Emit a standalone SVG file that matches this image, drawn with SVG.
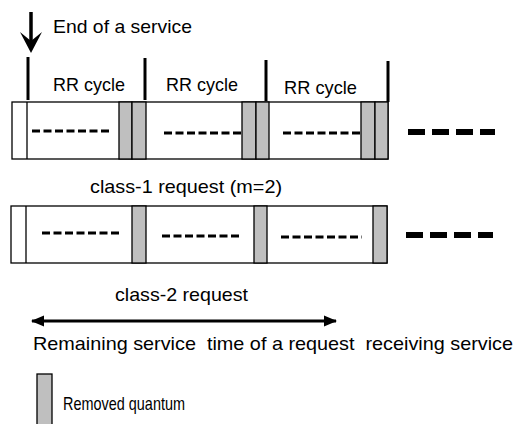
<svg xmlns="http://www.w3.org/2000/svg" width="518" height="424" viewBox="0 0 518 424">
<style>
text{font-family:"Liberation Sans Narrow","Liberation Sans",Arial,sans-serif;font-size:19px;fill:#000;white-space:pre}
.box{fill:#fff;stroke:#000;stroke-width:1.3}
.q{fill:#bfbfbf;stroke:#000;stroke-width:1.3}
.tick{stroke:#000;stroke-width:3}
.dash{stroke:#000;stroke-width:3;stroke-dasharray:8 3.5}
.big{stroke:#000;stroke-width:6;stroke-dasharray:17 7}
</style>
<defs>
<marker id="ah" viewBox="0 0 12 12" refX="11" refY="6" markerWidth="4.5" markerHeight="4.5" orient="auto-start-reverse" markerUnits="strokeWidth">
<path d="M0,1 L12,6 L0,11 Z" fill="#000"/>
</marker>
</defs>
<g id="end-of-service">
<path d="M31,12 V42" stroke="#000" stroke-width="3.5"/>
<path d="M20,32 L31,53 L42,32 L31,41 Z" fill="#000"/>
<text x="53" y="33" textLength="139" lengthAdjust="spacingAndGlyphs">End of a service</text>
</g>
<g id="rr-cycles">
<line class="tick" x1="28" y1="57" x2="28" y2="100"/>
<line class="tick" x1="145" y1="58" x2="145" y2="100"/>
<line class="tick" x1="266" y1="60" x2="266" y2="101"/>
<line class="tick" x1="388" y1="61" x2="388" y2="102"/>
<text x="53" y="91" textLength="72" lengthAdjust="spacingAndGlyphs">RR cycle</text>
<text x="166" y="91" textLength="72" lengthAdjust="spacingAndGlyphs">RR cycle</text>
<text x="284" y="94" textLength="73" lengthAdjust="spacingAndGlyphs">RR cycle</text>
</g>
<g id="class1-row">
<rect class="box" x="12" y="102" width="376" height="57"/>
<line x1="27" y1="102" x2="27" y2="159" stroke="#000" stroke-width="1.3"/>
<rect class="q" x="119" y="102" width="13" height="57"/>
<rect class="q" x="132" y="102" width="14" height="57"/>
<rect class="q" x="242" y="102" width="14" height="57"/>
<rect class="q" x="256" y="102" width="13" height="57"/>
<rect class="q" x="361" y="102" width="14" height="57"/>
<rect class="q" x="375" y="102" width="13" height="57"/>
<line class="dash" x1="32" y1="131" x2="111" y2="131"/>
<line class="dash" x1="164" y1="133" x2="242" y2="133"/>
<line class="dash" x1="283" y1="133" x2="361" y2="133"/>
<line class="big" x1="408" y1="132" x2="495" y2="132"/>
<text x="90" y="193" textLength="192" lengthAdjust="spacingAndGlyphs">class-1 request (m=2)</text>
</g>
<g id="class2-row">
<rect class="box" x="11" y="206" width="376" height="57"/>
<line x1="26" y1="206" x2="26" y2="263" stroke="#000" stroke-width="1.3"/>
<rect class="q" x="132" y="206" width="14" height="57"/>
<rect class="q" x="254" y="206" width="13" height="57"/>
<rect class="q" x="373" y="206" width="14" height="57"/>
<line class="dash" x1="42" y1="233" x2="122" y2="233"/>
<line class="dash" x1="162" y1="236" x2="242" y2="236"/>
<line class="dash" x1="281" y1="237" x2="362" y2="237"/>
<line class="big" x1="406" y1="235" x2="493" y2="235"/>
<text x="115" y="301" textLength="133" lengthAdjust="spacingAndGlyphs">class-2 request</text>
</g>
<g id="connectors">
<line x1="32" y1="321" x2="336" y2="321" stroke="#000" stroke-width="3" marker-start="url(#ah)" marker-end="url(#ah)"/>
</g>
<g id="remaining">
<text x="33" y="350" textLength="480" lengthAdjust="spacingAndGlyphs">Remaining service  time of a request  receiving service</text>
</g>
<g id="legend">
<rect class="q" x="37" y="374" width="15" height="60"/>
<text x="63" y="410" textLength="122" lengthAdjust="spacingAndGlyphs">Removed quantum</text>
</g>
</svg>
